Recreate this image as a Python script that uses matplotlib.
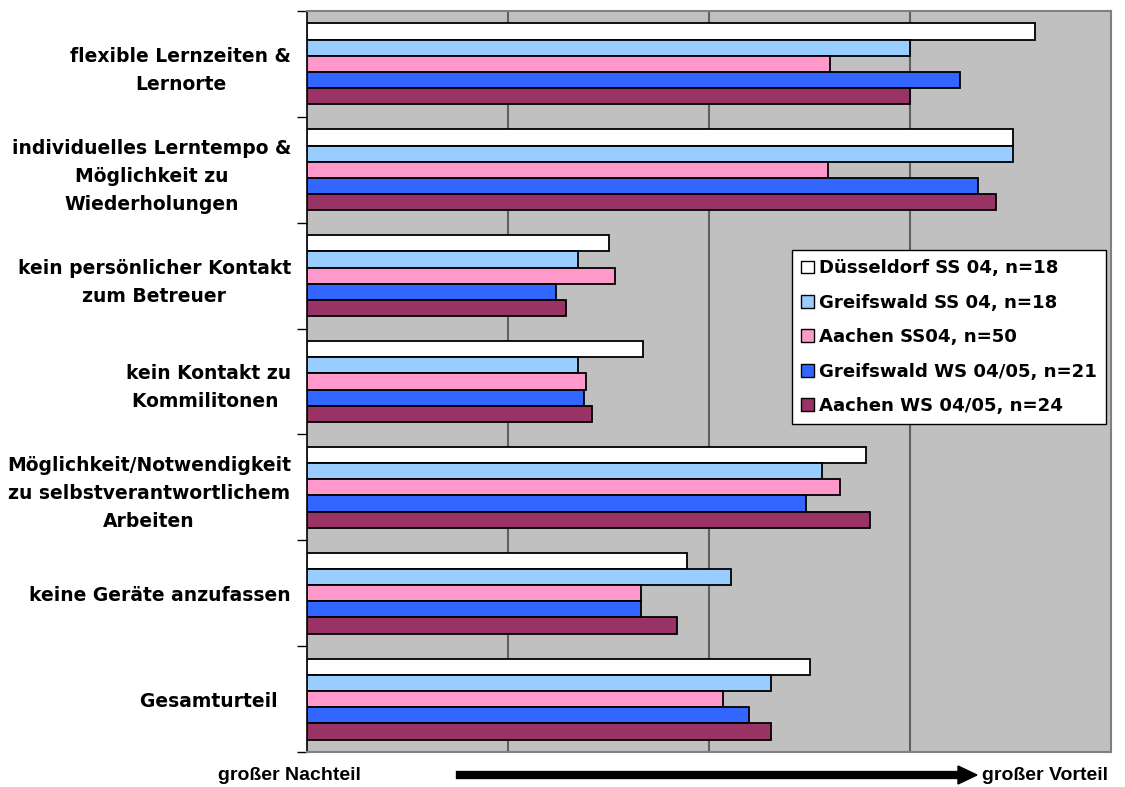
import numpy as np
import matplotlib.pyplot as plt
from matplotlib.patches import Patch

plt.rcParams['font.family'] = ['DejaVu Sans']

kategorien = ['flexible Lernzeiten &\nLernorte',
              'individuelles Lerntempo &\nMöglichkeit zu\nWiederholungen',
              'kein persönlicher Kontakt\nzum Betreuer',
              'kein Kontakt zu\nKommilitonen ',
              'Möglichkeit/Notwendigkeit\nzu selbstverantwortlichem\nArbeiten',
              'keine Geräte anzufassen',
              'Gesamturteil  ']

gruppen = ['Düsseldorf SS 04, n=18', 'Greifswald SS 04, n=18', 'Aachen SS04, n=50',
           'Greifswald WS 04/05, n=21', 'Aachen WS 04/05, n=24']
farben = ['#FFFFFF', '#99CCFF', '#FF99CC', '#3366FF', '#993366']

duesseldorf_ss = [3.62, 3.51, 1.50, 1.67, 2.78, 1.89, 2.50]
greifswald_ss = [3.00, 3.51, 1.35, 1.35, 2.56, 2.11, 2.31]
aachen_ss = [2.60, 2.59, 1.53, 1.39, 2.65, 1.66, 2.07]
greifswald_ws = [3.25, 3.34, 1.24, 1.38, 2.48, 1.66, 2.20]
aachen_ws = [3.00, 3.43, 1.29, 1.42, 2.80, 1.84, 2.31]
werte = [duesseldorf_ss, greifswald_ss, aachen_ss, greifswald_ws, aachen_ws]

fig = plt.figure(figsize=(11.25, 7.87), dpi=100)
ax = fig.add_axes([0.2729, 0.0445, 0.7147, 0.9415])
ax.set_facecolor('#C0C0C0')

h = 0.153
y = np.arange(len(kategorien))
for j, (name, farbe, w) in enumerate(zip(gruppen, farben, werte)):
    ax.barh(y - 2 * h + j * h, w, height=h, color=farbe, edgecolor='black',
            linewidth=1.3, label=name, zorder=3)

ax.set_xlim(0, 4)
ax.set_ylim(len(kategorien) - 0.5, -0.5)
ax.set_xticks([1, 2, 3])
ax.xaxis.grid(True, color='#606060', linewidth=1.5, zorder=1)
ax.tick_params(axis='x', length=0, labelbottom=False)

# Trennstriche an den Kategoriegrenzen, Beschriftung in der Mitte
ax.set_yticks(np.arange(-0.5, len(kategorien)))
ax.set_yticklabels([])
ax.set_yticks(y, minor=True)
ax.set_yticklabels(kategorien, minor=True, fontsize=13.5, fontweight='bold',
                   multialignment='center', linespacing=1.6)
ax.tick_params(axis='y', which='major', length=7, width=1, color='black', direction='out')
ax.tick_params(axis='y', which='minor', length=0, pad=11.5)

ax.spines['left'].set_color('black')
ax.spines['left'].set_linewidth(1.2)
for s in ['top', 'right', 'bottom']:
    ax.spines[s].set_color('#808080')
    ax.spines[s].set_linewidth(1.5)

handles = [Patch(facecolor=f, edgecolor='black', linewidth=1) for f in farben]
leg = ax.legend(handles, gruppen, loc='upper left', bbox_to_anchor=(0.603, 0.677),
                borderaxespad=0, fancybox=False, framealpha=1, edgecolor='black',
                handlelength=0.7, handleheight=0.7, handletextpad=0.3,
                labelspacing=0.9, borderpad=0.5,
                prop={'size': 13.1, 'weight': 'bold'})
leg.get_frame().set_linewidth(1)
leg.set_zorder(5)

fig.text(218 / 1125, 1 - 775 / 787, 'großer Nachteil', fontsize=14, fontweight='bold',
         ha='left', va='center', family=['Liberation Sans Narrow', 'Liberation Sans'])
fig.text(1108 / 1125, 1 - 775 / 787, 'großer Vorteil', fontsize=14, fontweight='bold',
         ha='right', va='center', family=['Liberation Sans Narrow', 'Liberation Sans'])
fig.add_artist(plt.Line2D([460 / 1125, 962 / 1125], [1 - 775 / 787] * 2,
                          color='black', linewidth=6, transform=fig.transFigure))
fig.add_artist(plt.Polygon([[958 / 1125, 1 - 766 / 787], [977 / 1125, 1 - 775 / 787],
                            [958 / 1125, 1 - 784 / 787]], closed=True,
                           color='black', transform=fig.transFigure))

fig.savefig('out.png', dpi=100)
